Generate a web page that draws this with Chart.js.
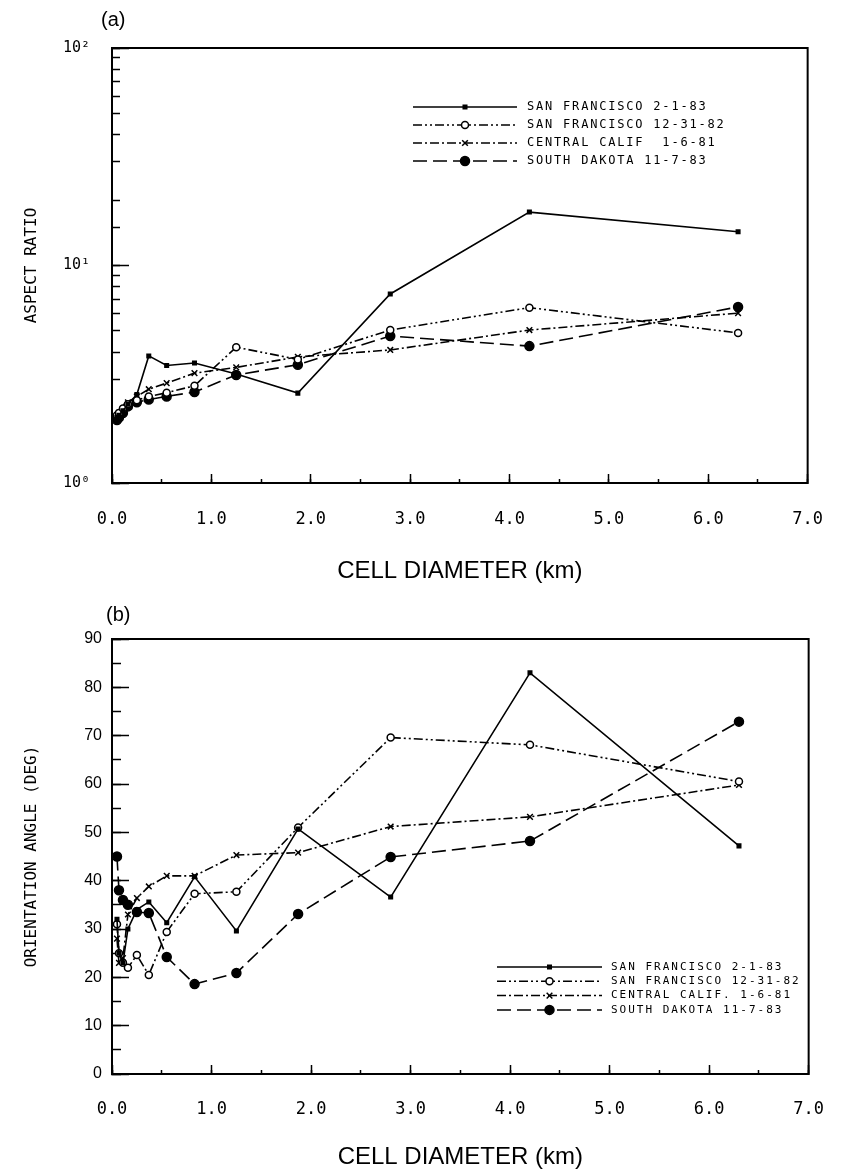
<!DOCTYPE html>
<html>
<head>
<meta charset="utf-8">
<script src="https://cdn.jsdelivr.net/npm/chart.js@4.4.1/dist/chart.umd.min.js"></script>
<style>
html, body { margin: 0; padding: 0; background: #fff; }
#wrap { position: relative; width: 858px; height: 1172px; }
canvas { position: absolute; left: 0; }
#c1 { top: 0; }
#c2 { top: 590px; }
</style>
</head>
<body>
<div id="wrap">
<canvas id="c1" width="858" height="590"></canvas>
<canvas id="c2" width="858" height="582"></canvas>
</div>
<script>
// cell diameters (km) shared by all series
var diameter = [0.05, 0.07, 0.11, 0.16, 0.25, 0.37, 0.55, 0.83, 1.25, 1.87, 2.8, 4.2, 6.3];

var namesA = ['SAN FRANCISCO 2-1-83', 'SAN FRANCISCO 12-31-82', 'CENTRAL CALIF  1-6-81', 'SOUTH DAKOTA 11-7-83'];
var namesB = ['SAN FRANCISCO 2-1-83', 'SAN FRANCISCO 12-31-82', 'CENTRAL CALIF. 1-6-81', 'SOUTH DAKOTA 11-7-83'];

// (a) aspect ratio
var aspectSF83 = [2.0, 2.05, 2.15, 2.3, 2.55, 3.84, 3.47, 3.56, 3.17, 2.59, 7.4, 17.6, 14.3];
var aspectSF82 = [2.05, 2.1, 2.2, 2.3, 2.4, 2.5, 2.6, 2.8, 4.21, 3.7, 5.05, 6.4, 4.9];
var aspectCC = [2.0, 2.1, 2.2, 2.35, 2.5, 2.7, 2.88, 3.2, 3.4, 3.8, 4.09, 5.05, 6.04];
var aspectSD = [1.95, 2.0, 2.1, 2.25, 2.35, 2.42, 2.5, 2.62, 3.14, 3.5, 4.74, 4.26, 6.45];

// (b) orientation angle (deg)
var angleSF83 = [32, 25, 23, 30, 34, 35.6, 31.3, 40.8, 29.6, 50.7, 36.6, 83, 47.2];
var angleSF82 = [31, 25, 23, 22, 24.6, 20.5, 29.4, 37.3, 37.7, 51, 69.6, 68.1, 60.5];
var angleCC = [28, 23, 24, 33, 36.4, 38.8, 41, 41, 45.3, 45.8, 51.2, 53.2, 59.8];
var angleSD = [45, 38, 36, 35, 33.5, 33.3, 24.2, 18.6, 20.9, 33.1, 44.9, 48.2, 72.9];

var styles = [
    { dash: [], point: 'rect', radius: 2.5, fill: '#000' },
    { dash: [9, 3, 2, 3, 2, 3], point: 'circle', radius: 3.5, fill: '#fff' },
    { dash: [9, 3, 2, 3], point: 'crossRot', radius: 4, fill: '#000' },
    { dash: [14, 6], point: 'circle', radius: 4.5, fill: '#000' }
];

function makeDatasets(names, series) {
    return series.map(function (vals, i) {
        var s = styles[i];
        return {
            label: names[i],
            data: diameter.map(function (d, j) { return { x: d, y: vals[j] }; }),
            borderColor: '#000',
            borderWidth: 1.6,
            borderDash: s.dash,
            pointStyle: s.point,
            pointRadius: s.radius,
            pointBorderWidth: 1.5,
            pointBackgroundColor: s.fill,
            pointBorderColor: '#000',
            fill: false,
            tension: 0
        };
    });
}

var framePlugin = {
    id: 'frame',
    afterDraw: function (chart, args, o) {
        var ctx = chart.ctx, a = chart.chartArea;
        ctx.save();
        ctx.strokeStyle = '#000';
        ctx.lineWidth = 2;
        ctx.strokeRect(a.left, a.top, a.right - a.left, a.bottom - a.top);
        ctx.fillStyle = '#000';
        ctx.font = '20px "Liberation Sans"';
        ctx.textBaseline = 'middle';
        ctx.fillText(o.label, o.x, o.y);
        ctx.restore();
    }
};

var sampleLegend = {
    id: 'sampleLegend',
    afterDraw: function (chart, args, o) {
        var ctx = chart.ctx;
        ctx.save();
        chart.data.datasets.forEach(function (ds, i) {
            var y = o.y + i * o.gap;
            var mid = (o.x0 + o.x1) / 2;
            ctx.strokeStyle = '#000';
            ctx.lineWidth = 1.5;
            ctx.setLineDash(ds.borderDash);
            ctx.beginPath();
            ctx.moveTo(o.x0, y);
            ctx.lineTo(o.x1, y);
            ctx.stroke();
            ctx.setLineDash([]);
            ctx.fillStyle = ds.pointBackgroundColor;
            if (Chart.helpers && Chart.helpers.drawPoint) {
                Chart.helpers.drawPoint(ctx, { pointStyle: ds.pointStyle, radius: ds.pointRadius, borderWidth: 1.5, rotation: 0 }, mid, y);
            }
            ctx.fillStyle = '#000';
            ctx.font = o.font;
            ctx.letterSpacing = o.spacing + 'px';
            ctx.textBaseline = 'middle';
            ctx.fillText(ds.label, o.textX, y);
            ctx.letterSpacing = '0px';
        });
        ctx.restore();
    }
};

var monoTick = { family: 'DejaVu Sans Mono', size: 17 };
var axisTitleFont = { family: 'Liberation Sans', size: 24 };
var yTitleFont = { family: 'DejaVu Sans Mono', size: 16 };

function xAxes(padTicks, axisHeight, titlePad) {
    return {
        x: {
            type: 'linear', position: 'bottom', min: 0, max: 7, weight: 1,
            ticks: { stepSize: 1, padding: padTicks, font: monoTick, color: '#000', maxRotation: 0, autoSkip: false,
                callback: function (v) { return v.toFixed(1); } },
            grid: { drawOnChartArea: false, drawTicks: true, tickLength: -9, tickWidth: 1.5, tickColor: '#000' },
            border: { display: true, color: '#000', width: 2 },
            title: { display: true, text: 'CELL DIAMETER (km)', font: axisTitleFont, color: '#000', padding: { top: 0, bottom: titlePad } },
            afterFit: function (s) { s.height = axisHeight; }
        },
        xMinor: {
            type: 'linear', position: 'bottom', min: 0, max: 7, weight: 0, display: true,
            ticks: { stepSize: 0.5, display: false },
            grid: { drawOnChartArea: false, drawTicks: true, tickLength: -4, tickWidth: 1.5, tickColor: '#000' },
            border: { display: false },
            afterFit: function (s) { s.height = 0; }
        }
    };
}

var scalesA = xAxes(35, 107, 4);
scalesA.y = {
    type: 'logarithmic', position: 'left', min: 1, max: 100, weight: 1,
    afterBuildTicks: function (s) {
        s.ticks = s.ticks.filter(function (t) { return t.value === 1 || t.value === 10 || t.value === 100; });
    },
    ticks: { padding: 39, color: '#000', font: { family: 'DejaVu Sans Mono', size: 15 },
        callback: function (v) { return v === 1 ? '10\u2070' : v === 10 ? '10\u00b9' : v === 100 ? '10\u00b2' : ''; } },
    grid: { drawOnChartArea: false, drawTicks: true, tickLength: -17, tickWidth: 1.5, tickColor: '#000' },
    border: { display: true, color: '#000', width: 2 },
    title: { display: true, text: 'ASPECT RATIO', font: yTitleFont, color: '#000', padding: { top: 22, bottom: 0 } },
    afterFit: function (s) { s.width = 112; }
};
scalesA.yMinor = {
    type: 'logarithmic', position: 'left', min: 1, max: 100, weight: 0, display: true,
    ticks: { display: false },
    grid: { drawOnChartArea: false, drawTicks: true, tickLength: -8, tickWidth: 1.5, tickColor: '#000' },
    border: { display: false },
    afterFit: function (s) { s.width = 0; }
};

var scalesB = xAxes(34, 98, 0);
scalesB.y = {
    type: 'linear', position: 'left', min: 0, max: 90, weight: 1,
    ticks: { stepSize: 10, padding: 27, color: '#000', font: { family: 'Liberation Sans', size: 16 } },
    grid: { drawOnChartArea: false, drawTicks: true, tickLength: -17, tickWidth: 1.5, tickColor: '#000' },
    border: { display: true, color: '#000', width: 2 },
    title: { display: true, text: 'ORIENTATION ANGLE (DEG)', font: yTitleFont, color: '#000', padding: { top: 22, bottom: 0 } },
    afterFit: function (s) { s.width = 112; }
};
scalesB.yMinor = {
    type: 'linear', position: 'left', min: 0, max: 90, weight: 0, display: true,
    ticks: { stepSize: 5, display: false },
    grid: { drawOnChartArea: false, drawTicks: true, tickLength: -9, tickWidth: 1.5, tickColor: '#000' },
    border: { display: false },
    afterFit: function (s) { s.width = 0; }
};

var chartA = new Chart(document.getElementById('c1').getContext('2d'), {
    type: 'line',
    data: { datasets: makeDatasets(namesA, [aspectSF83, aspectSF82, aspectCC, aspectSD]) },
    options: {
        responsive: false,
        animation: false,
        layout: { padding: { top: 48, right: 21, bottom: 0, left: 0 } },
        scales: scalesA,
        plugins: {
            legend: { display: false },
            tooltip: { enabled: false },
            frame: { label: '(a)', x: 101, y: 20 },
            sampleLegend: { x0: 413, x1: 517, textX: 527, y: 107, gap: 18, font: '12px "DejaVu Sans Mono"', spacing: 1.8 }
        }
    },
    plugins: [framePlugin, sampleLegend]
});

var chartB = new Chart(document.getElementById('c2').getContext('2d'), {
    type: 'line',
    data: { datasets: makeDatasets(namesB, [angleSF83, angleSF82, angleCC, angleSD]) },
    options: {
        responsive: false,
        animation: false,
        layout: { padding: { top: 49, right: 21, bottom: 0, left: 0 } },
        scales: scalesB,
        plugins: {
            legend: { display: false },
            tooltip: { enabled: false },
            frame: { label: '(b)', x: 106, y: 25 },
            sampleLegend: { x0: 497, x1: 602, textX: 611, y: 377, gap: 14.3, font: '11px "DejaVu Sans Mono"', spacing: 2 }
        }
    },
    plugins: [framePlugin, sampleLegend]
});
</script>
</body>
</html>
